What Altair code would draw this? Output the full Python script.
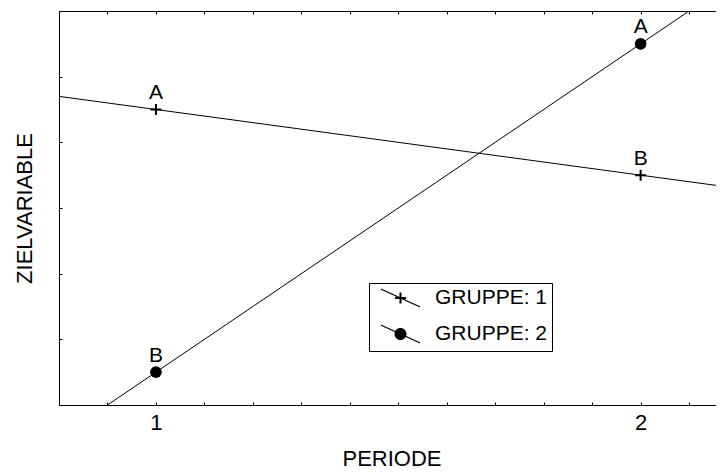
import altair as alt
import pandas as pd

# ---- data ----
periode = [1, 2, 1, 2]
gruppe = ["1", "1", "2", "2"]
ziel = [4.5, 3.5, 0.5, 5.5]
buchstabe = ["A", "B", "B", "A"]
legende = ["GRUPPE: 1", "GRUPPE: 1", "GRUPPE: 2", "GRUPPE: 2"]
legend_labels = ["GRUPPE: 1", "GRUPPE: 2"]

x_domain = [0.8, 2.172]
y_domain = [0, 6]
x_ticks = [0.8, 0.9, 1.0, 1.1, 1.2, 1.3, 1.4, 1.5, 1.6, 1.7, 1.8, 1.9, 2.0, 2.1]
y_ticks = [0, 0.25, 0.5, 0.75, 1, 1.25, 1.5, 1.75, 2, 2.25, 2.5, 2.75, 3,
           3.25, 3.5, 3.75, 4, 4.25, 4.5, 4.75, 5, 5.25, 5.5, 5.75, 6]
fit_extent = [0.8, 2.2]

FONT = "Liberation Sans"
PLUS = "M-1,0H1M0,-1V1"
# legend glyphs drawn as filled outlines (diagonal line + marker)
DIAG = "M-0.3,-0.94L3.6,0.82L3.6,0.94L-0.3,-0.82Z"
LEG1 = DIAG + "M1.1,-0.1H2.2V0.1H1.1ZM1.55,-0.55H1.75V0.55H1.55Z"
LEG2 = DIAG + "M2.25,0A0.6,0.6,0,1,1,1.05,0A0.6,0.6,0,1,1,2.25,0Z"

df = pd.DataFrame({"periode": periode, "gruppe": gruppe, "ziel": ziel,
                   "label": buchstabe, "legende": legende})

xs = alt.Scale(domain=x_domain, nice=False, zero=False)
ys = alt.Scale(domain=y_domain, nice=False, zero=False)

label_expr = "abs(datum.value - round(datum.value)) < 0.001 ? format(datum.value, 'd') : ''"

base = alt.Chart(df)

lines = base.transform_regression(
    "periode", "ziel", groupby=["gruppe"], extent=fit_extent
).mark_line(color="black", strokeWidth=1, clip=True).encode(
    x=alt.X("periode:Q", scale=xs,
            axis=alt.Axis(orient="bottom", values=x_ticks, labelExpr=label_expr,
                          title="PERIODE", tickSize={"expr": "-3"},
                          labelPadding=10, titlePadding=15, labelOverlap=False)),
    y=alt.Y("ziel:Q", scale=ys,
            axis=alt.Axis(orient="left", values=y_ticks, labels=False,
                          title="ZIELVARIABLE", tickSize={"expr": "-3"},
                          titlePadding=22)),
    detail="gruppe:N",
)

plus = base.transform_filter("datum.gruppe == '1'").mark_point(
    shape=PLUS, filled=False, size=121, strokeWidth=2, color="black", opacity=1
).encode(
    x=alt.X("periode:Q", scale=xs, axis=None),
    y=alt.Y("ziel:Q", scale=ys),
)

circ = base.transform_filter("datum.gruppe == '2'").mark_point(
    shape="circle", filled=True, size=137, color="black", opacity=1
).encode(
    x=alt.X("periode:Q", scale=xs, axis=None),
    y=alt.Y("ziel:Q", scale=ys),
)

texts = base.mark_text(baseline="alphabetic", dy=-10.5, fontSize=21, font=FONT,
                       color="black").encode(
    x=alt.X("periode:Q", scale=xs,
            axis=alt.Axis(orient="top", values=x_ticks, labels=False, title=None,
                          tickSize={"expr": "-3"})),
    y=alt.Y("ziel:Q", scale=ys),
    text="label:N",
)

legend_layer = base.mark_point(
    filled=True, color="black", size=400, clip=True, opacity=1
).encode(
    x=alt.value(-500),
    y=alt.value(-500),
    shape=alt.Shape("legende:N",
                    scale=alt.Scale(domain=legend_labels, range=[LEG1, LEG2]),
                    legend=alt.Legend(title=None, orient="none", legendX=310, legendY=272,
                                      padding=4, strokeColor="black", fillColor="white",
                                      cornerRadius=0, symbolSize=400,
                                      symbolFillColor="black", symbolOpacity=1,
                                      labelFont=FONT, labelFontSize=21,
                                      labelColor="black", labelOffset=40, rowPadding=10)),
)

chart = alt.layer(lines, plus, circ, texts, legend_layer).resolve_axis(
    x="independent"
).properties(
    width=665, height=394,
    padding={"left": 51, "top": 3, "right": -8, "bottom": 64},
    autosize=alt.AutoSizeParams(type="none"),
    background="white",
).configure_view(stroke=None).configure_axis(
    domainColor="black", tickColor="black", labelColor="black", titleColor="black",
    labelFont=FONT, titleFont=FONT, labelFontSize=22, titleFontSize=22,
    titleFontWeight="normal", grid=False, domainWidth=1, tickWidth=1,
)

chart.save("out.html", embed_options={"renderer": "svg", "actions": False})
